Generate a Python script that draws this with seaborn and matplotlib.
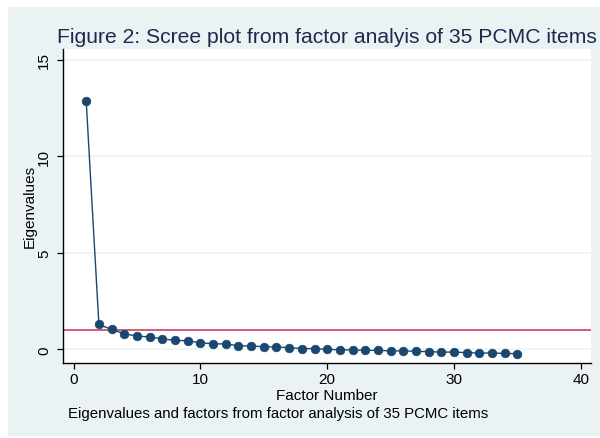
import numpy as np
import pandas as pd
import matplotlib
matplotlib.use("Agg")
import matplotlib.pyplot as plt
from matplotlib.patches import Rectangle
import seaborn as sns

# === DATA ===
factor_number = list(range(1, 36))
eigenvalues = [12.85, 1.29, 1.03, 0.81, 0.69, 0.64, 0.55, 0.46, 0.45, 0.34,
               0.29, 0.28, 0.19, 0.17, 0.14, 0.12, 0.09, 0.04, 0.04, 0.00,
               -0.02, -0.03, -0.05, -0.05, -0.08, -0.08, -0.10, -0.12, -0.14, -0.14,
               -0.17, -0.19, -0.19, -0.21, -0.22]
cutoff = 1
x_ticks = [0, 10, 20, 30, 40]
y_ticks = [0, 5, 10, 15]

title = "Figure 2: Scree plot from factor analyis of 35 PCMC items"
note = "Eigenvalues and factors from factor analysis of 35 PCMC items"

df = pd.DataFrame({"Factor Number": factor_number, "Eigenvalues": eigenvalues})

# === STYLE (Stata s2color look) ===
sns.set_theme(style="white")
plt.rcParams["font.family"] = ["Liberation Sans", "DejaVu Sans"]
BG = "#EAF2F3"
NAVY = "#1A476F"
TITLE_C = "#1C2A4E"
RED = "#D45B78"

W, H = 600, 439
fig = plt.figure(figsize=(W / 100, H / 100), dpi=100)
fig.patch.set_facecolor("white")
fig.add_artist(Rectangle((8 / W, 2 / H), 1 - 8 / W, 1 - 10 / H,
                         transform=fig.transFigure, facecolor=BG,
                         edgecolor="none", zorder=-10))

ax = fig.add_axes([63 / W, 1 - 363.7 / H, (591 - 63) / W, (363.7 - 50) / H])
ax.set_facecolor("white")

for yv in y_ticks:
    ax.axhline(yv, color=BG, lw=1.1, zorder=0)
ax.axhline(cutoff, color=RED, lw=1.4, zorder=1)

sns.lineplot(data=df, x="Factor Number", y="Eigenvalues", ax=ax,
             color=NAVY, lw=1.0, marker="o", markersize=6.2,
             markeredgecolor=NAVY, markeredgewidth=0.5, zorder=3)

ax.set_xlim(-0.83, 40.8)
ax.set_ylim(-0.69, 15.55)
ax.set_xticks(x_ticks)
ax.set_yticks(y_ticks)

for s in ["top", "right"]:
    ax.spines[s].set_visible(False)
for s in ["left", "bottom"]:
    ax.spines[s].set_color("black")
    ax.spines[s].set_linewidth(1.0)

ax.tick_params(axis="both", which="both", direction="out", length=4,
               width=0.9, color="black", labelsize=11, labelcolor="black")
ax.tick_params(axis="x", pad=3, bottom=True)
ax.tick_params(axis="y", pad=4.5, left=True, labelrotation=90)
for lbl in ax.get_yticklabels():
    lbl.set_va("center")

ax.set_xlabel("Factor Number", fontsize=11, color="black")
ax.set_ylabel("Eigenvalues", fontsize=11, color="black")
ax.xaxis.set_label_coords(0.5, -0.081)
ax.yaxis.set_label_coords(-0.05, 0.5)

ax.set_title(title, fontsize=15.2, color=TITLE_C, pad=5)
fig.text(68 / W, 1 - 414 / H, note, fontsize=10.8, color="black",
         ha="left", va="center")

fig.savefig("out.png", dpi=100, facecolor=fig.get_facecolor())
